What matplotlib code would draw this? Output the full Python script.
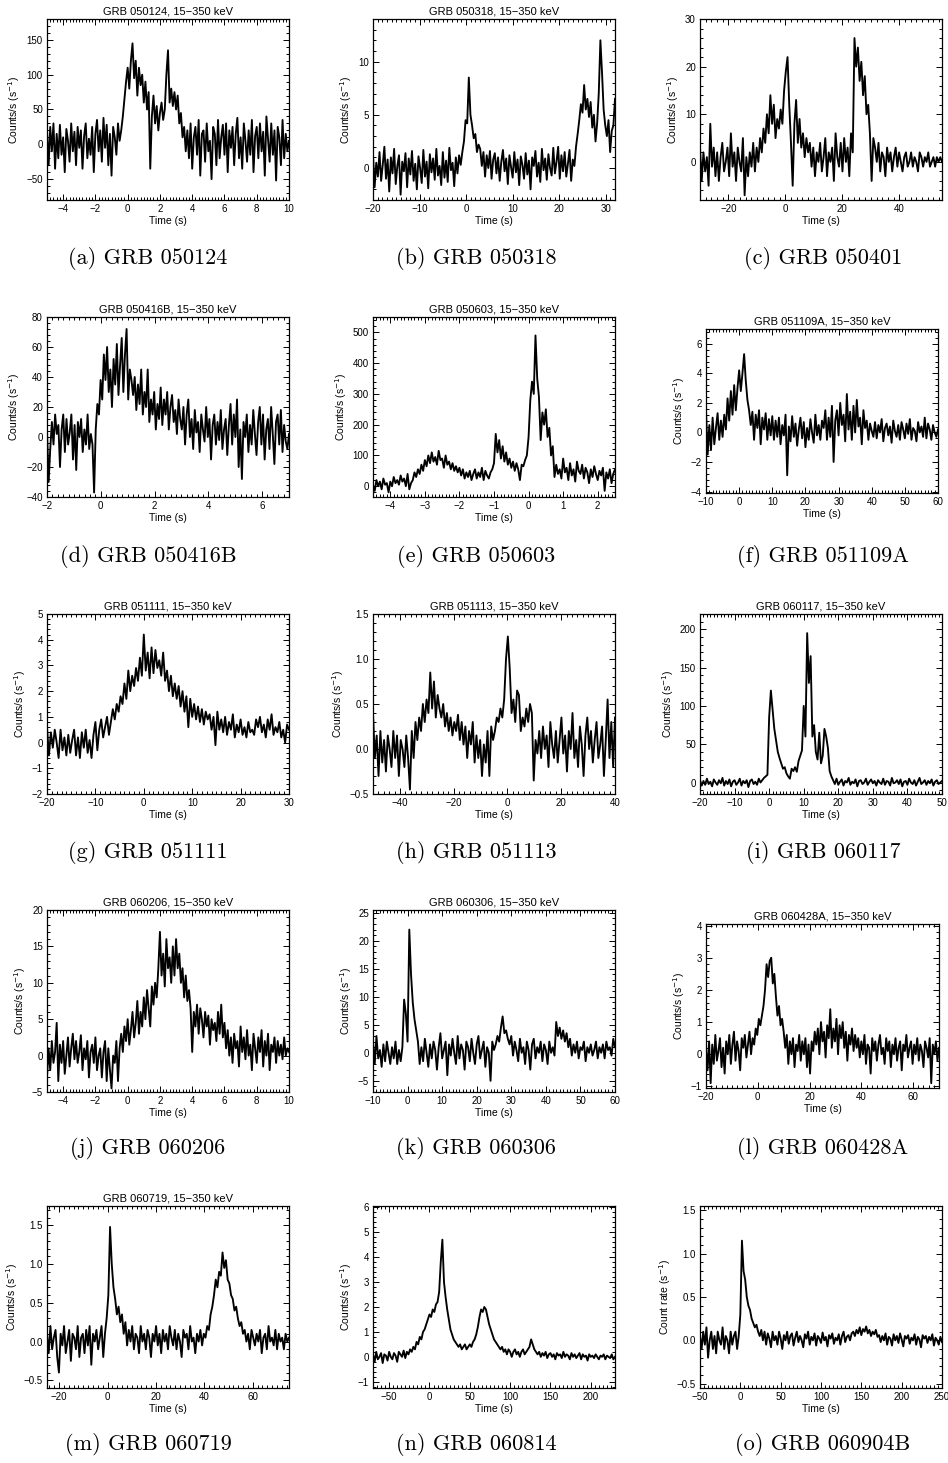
import numpy as np
import matplotlib
matplotlib.use("Agg")
import matplotlib.pyplot as plt
from matplotlib.ticker import AutoMinorLocator, MultipleLocator

# ---------------- data (counts per bin) ----------------
grb_050124 = [20, -30, 25, -10, 30, -35, 15, -20, 28, -15, 10, -40, 22, 5, -25, 30, -10, 18, -30, 25,
              -5, 20, -35, 12, 30, -20, 8, -15, 25, -40, 15, 35, -10, 20, -25, 38, -5, 28, -30, 15,
              -45, 25, 10, -15, 30, 5, 20,
              40, 65, 90, 110, 80, 120, 145,
              95, 120, 70, 110, 85, 100, 60, 90, 50, 75, -35,
              40, 70, 30, 55, 20, 45, 60, 35, 50,
              100, 135, 60, 80, 55, 75, 50, 70,
              30, 45, 10, 25, -10,
              20, -20, 30, -35, 10, 25, -15, 35, -45, 15, 20, -25, 30, -10, 5, -50, 25, 15, -30, 35,
              -20, 10, 28, -15, 30, -40, 20, -5, 25, -30, 15, 38, -20, 10, -35, 30, 5, -25, 20, -15,
              35, -40, 12, 25, -20, 30, -10, 18, -45, 40, 8, -25, 30, -15, 20, -52, 25, 10, -30, 35,
              -20, 15, -10, 5]
grb_050318 = [1.2, -1.8, 0.5, -0.8, 1.5, -1.2, 0.3, 2.0, -1.0, 0.8, -2.2, 1.0, -0.5, 1.8, -1.5, 0.2,
              1.2, -2.5, 0.6, -0.3, 1.4, -1.8, 0.9, -0.6, 1.6, -1.2, 0.4, -2.0, 1.1, 0.0, -1.4, 1.7,
              -0.8, 0.6, -1.9, 1.3, -0.4, 0.9, -1.1, 1.8, -0.7, 0.2, -1.6, 1.5, -0.9, 0.7, -1.3, 1.9,
              -0.2, 0.5, -1.7, 1.0, -0.5, 1.2, 0.3,
              1.5, 2.5, 4.5, 4.2, 8.5, 5.0, 4.0, 2.8, 3.2, 1.5, 2.2,
              1.8, 0.2, 1.5, -0.8, 1.2, 0.0, 1.6, -1.0, 0.8, 1.4, -0.5, 1.0, -1.2, 0.6, 1.7, -0.3,
              0.9, -1.5, 1.2, 0.1, -0.9, 1.5, -0.4, 0.8, -1.6, 1.1, 0.3, -1.0, 1.4, -0.6, 0.7, -2.0,
              1.0, 0.2, 1.6, -0.8, 0.5, -1.3, 1.8, -0.2, 0.9, -1.1, 1.3, 0.0, -0.7, 1.9, -0.5, 0.6,
              2.0, -1.0, 1.2, -0.3, 1.5, -0.8, 0.4, 1.7, -1.2, 0.8, 0.2,
              2.0, 3.2, 4.5, 6.0, 5.2, 7.8, 5.5, 6.5, 4.8, 6.2, 3.8, 5.0, 2.5, 4.2, 7.0, 12.0, 9.0,
              5.5, 4.0, 3.0, 4.5, 1.5, 3.5, 4.0, 6.5]
grb_050401 = [3, -4, 2, -2, 1, -5, 8, -1, 3, -3, 2, -4, 1, 4, -2, 0, 3, -3, 6, -1, 2, -4, 3, 0, -2,
              5, -7, 1, -3, 2, -1, 4, -2, 3, 0, 5,
              2, 7, 4, 10, 6, 14, 8, 12, 5, 9, 7, 11, 8,
              15, 19, 22, 12, 4,
              -5, 8, 13, 4, 9, 3, 6, 1, 5, 2,
              4, -1, 3, -3, 2, 0, 4, -2, 1, 5, -3, 2, 0, 3, -4, 6, 1, -1, 4, -2, 5, 0, 3, -3, 6, 2,
              26, 20, 24, 17, 21, 14, 18, 10, 12, 6, -4, 5,
              3, 0, 4, -2, 2, 1, -3, 3, 0, 2, -2, 1, 3, -1, 2, 0, -2, 1, 2, -1, 0, 2, -1, 1, 0, -2,
              2, 1, -1, 1, 0, 2, -1, 0, 1, -1, 1, 0, 1, 0]
grb_050416b = [5, -30, -8, 10, -5, 15, 2, 8, -20, 5, 15, -10, 12, -5, 3, 15, -15, 8, -22, 10, 0, 12,
               -10, 5, -5, 15, -8, 2, -5, -37,
               5, 22, 15, 38, 25,
               55, 38, 60, 30, 45, 20, 52, 35, 62, 28, 48, 66, 30, 55, 72, 25, 45, 38,
               28, 40, 18, 35, 22, 45, 15, 30, 20,
               45, 10, 25, 15, 30, 5, 22, 12, 33, 8, 25, 15, 30, 5, 20, 28, 10, 18, 2, 25, 12,
               5, 20, -5, 15, 25, 0, 12, -8, 18, 3, 10, -10, 15, 5, -3, 20, 0, 12, -15, 8, 15, -5,
               10, -2, 18, -8, 5, 12, -12, 8, 22, -5, 15, 0, 25, -20, 5, -28, 10, 0, 15, -10, 8, -5,
               18, 2, -12, 10, 20, -5, 15, -15, 5, 12, -8, 20, 2, -18, 10, 15, -5, 18, -10, 8, -3,
               -8, 2]
grb_050603 = [5, -15, 20, 0, 15, -10, 25, 5, 10, -20, 15, 0, 30, 10, 20, 5, 35, 15, 25, 0, 40, -10,
              10, 20, 45, 30,
              55, 40, 70, 50, 85, 65, 100, 75, 110, 80, 95, 70, 115, 85, 90, 60, 100, 70, 80, 55,
              75, 50, 65, 45, 60,
              35, 55, 25, 45, 30, 50, 20, 40, 55, 25, 45, 30, 60, 20, 50, 35, 25, 45, 55, 75,
              170, 110, 150, 90, 130, 80, 110, 70, 90, 60, 80, 50, 75, 55, 20, 70, 65, 85, 100,
              160, 280, 340, 300, 490, 350, 290, 150, 240, 200, 250,
              160, 190, 100, 130, 30,
              70, 40, 55, 25, 90, 45, 60, 20, 75, 35, 55, 15, 80, 50, 40, 70, 25, 60, 45, 10, 55,
              30, 65, 40, 20, 50, 35, 60, -15, 45, 25, 55, 10, 40, 55]
grb_051109a = [1.5, -1.5, 0.5, -1.2, 1.0, -0.8, 0.3, 1.3, -0.5, 0.8, -0.3,
               1.2, 0.2, 2.3, 0.8, 2.8, 1.2, 3.2, 1.5, 3.0,
               4.2, 2.8, 4.0, 5.3, 3.5, 2.2,
               1.5, 0.5, 1.4, -0.5, 1.2, 0.3, 1.5, -0.8, 1.0, 0.2, 1.3, -0.5, 0.9, -0.2, 1.1,
               -0.5, 0.8, -0.3, 1.0, -0.8, 0.5, -0.2, 1.2, -2.9, 0.4, -0.6, 1.1, -0.3, 0.6, -0.9,
               0.2, 1.0, -0.4, 0.7, -1.0, 0.3, -0.5, 0.9, 0.0, -0.7, 1.2, -0.2, 0.5, -0.5, 0.8,
               0.3, 1.5, -0.5, 1.0, -0.3, 1.8, -2.0, 0.8, 1.5, -0.2, 2.0, 0.5, 1.2, -0.6, 2.6, 0.2,
               1.4, -0.5, 1.8, 0.0, 2.2, 0.4, 1.0, -0.8, 1.5, 0.3,
               0.8, -0.5, 0.6, 0.1, -0.3, 0.7, -0.4, 0.5, 0.0, 0.9, -0.6, 0.3, 0.6, -0.2, 0.4, -0.7,
               0.8, 0.1, -0.3, 0.5, -0.5, 0.7, 0.2, -0.4, 0.6, -0.1, 0.9, -0.5, 0.3, 0.1, -0.6, 0.7,
               0.0, 0.4, -0.3, 1.0, -0.4, 0.6, 0.2, -0.5, 0.5, 0.0, -0.3, 0.2]
grb_051111 = [0.6, -0.5, 0.4, -0.2, 0.5, 0.0, -0.6, 0.5, -0.3, 0.2, -0.5, 0.3, -0.4, 0.1, 0.5, -0.5,
              0.2, -0.6, 0.4, -0.2, 0.5, -0.4, 0.1,
              -0.6, 0.3, 0.8, -0.3, 0.5, 0.9, 0.2, 0.6, 1.0, 0.3, 0.8, 1.3, 0.9, 1.5,
              1.2, 1.8, 1.5, 2.3, 1.7, 2.8, 2.0, 2.6, 2.2, 2.9, 2.4, 3.3, 2.6,
              4.2, 2.8, 3.5, 2.5, 3.7, 2.7, 3.6, 2.9, 3.2, 2.6, 3.5,
              2.4, 2.8, 2.0, 2.6, 1.8, 2.3, 1.7, 2.2, 1.4, 2.0, 1.2, 1.8, 0.6,
              1.7, 1.0, 1.5, 0.9, 1.4, 0.8, 1.3, 0.7, 1.2, 0.9, 1.1, 0.5, 1.0, -0.1, 1.2,
              0.5, 0.9, 0.4, 1.0, 0.3, 0.8, 0.5, 1.1, 0.2, 0.7, 0.4, 0.9, 0.3, 0.6, 0.2, 0.8, 0.4,
              0.5, 0.3, 0.9, 0.6, 1.0, 0.4, 0.7, 0.2, 0.9, 0.5, 1.1, 0.3, 0.6, 0.4, 0.8, 0.2, 0.5,
              0.0, 0.7, 0.5]
grb_051113 = [0.4, -0.1, 0.15, -0.3, 0.2, -0.15, 0.1, -0.25, 0.15, 0.0, -0.2, 0.2, -0.1, 0.15, -0.3,
              0.1, 0.0, -0.2, 0.15, -0.1, -0.45,
              0.2, -0.1, 0.3, 0.1, 0.35, 0.2, 0.5, 0.3,
              0.55, 0.4, 0.85, 0.45, 0.75, 0.35, 0.6, 0.45,
              0.35, 0.5, 0.25, 0.4, 0.2, 0.35, 0.15, 0.3, 0.2, 0.38,
              0.1, 0.3, 0.05, 0.25, -0.1, 0.2, 0.05, 0.3, -0.15, 0.15,
              -0.1, 0.1, -0.3, 0.05, -0.15, 0.2, -0.3, 0.25, 0.1, 0.2, 0.35,
              0.3, 0.45, 0.35, 0.55, 1.0,
              1.25, 0.9, 0.4, 0.55, 0.3, 0.65, 0.6,
              0.2, 0.35, 0.25, 0.45, 0.3, 0.5, 0.4,
              -0.35, 0.1, -0.05, 0.2, -0.1, 0.25, 0.0, 0.15, -0.2, 0.3, 0.05, -0.1, 0.2, -0.15,
              0.1, 0.35, -0.05, 0.15, -0.25, 0.2, 0.0, 0.4, -0.1, 0.1, -0.2, 0.25, 0.05, -0.3,
              0.15, 0.35, 0.0, 0.2, -0.15, 0.1, 0.3, -0.1, 0.05, 0.25, -0.3, 0.1, 0.55, -0.1, 0.3,
              -0.2, 0.35]
grb_060117 = [3, -4, 2, -3, 5, -2, 1, -5, 4, 0, -3, 3, -1, 6, -4, 2, -2, 4, -5, 1, 3, -3, 0, 5, -4,
              2, -1, 3, -6, 2, 4, -2, 1, -3, 5, 0, 3, 6, 8,
              10, 85, 120, 95, 70, 55, 40, 32,
              25, 18, 20, 12, 8, 5, 18, 15, 20, 14, 28, 35, 42,
              100, 60, 195, 130, 165, 60, 75, 40, 30, 65, 25, 35, 70, 60, 45, 15, 8,
              3, -2, 5, -3, 1, 4, -4, 2, 0, 6, -3, 1, -1, 4, -5, 2, 3, -2, 0, 5, -3, 1, 4, -1, 2,
              -4, 3, 0, -2, 5, -3, 2, 1, -4, 6, -1, 0, 3, -2, 4, -5, 1, 2, -3, 5, 0, -2, 3, -4, 1,
              6, -2, 0, 3, -3, 2, -1, 4, -4, 1, 3, -2, 0, 2]
grb_060206 = [-3, 1, -2, 2, -1, 0.5, 4.5, -3.5, 1.5, -1, 2, -2.5, 0, 2.5, -1.5, 1, 3, -0.5, 2, -1,
              0.5, 2.8, -2, 1, -0.5, 2, -3, 0.5, 1.5, -1, 2.5, -2, 0, 1, -3, 0.5, 2, -3.5, 1, -2,
              -4.5, 0, -1, 2, -3.5, 1, 3, 0.5, 4, 2, 5, 1.5, 3.5, 6, 2.5, 4.5, 7.5, 3, 6, 4,
              8, 5, 9, 6.5, 4, 9.5, 7, 10, 8, 12,
              17, 11, 14, 9.5, 16, 12, 13.5, 10, 15, 11, 16, 12, 14,
              10, 12, 8, 11, 7.5, 9, 6.5,
              0.5, 6, 4, 7, 3, 6.5, 5, 2.5, 6, 4, 5.5, 1.5, 5, 3.5, 4.5, 2, 6, 3, 7, 2.5,
              4.5, 1, 3.5, 0, 2.5, -1, 3, 1, 2, -1.5, 4, 0.5, 2.5, -0.5, 3.5, 0, 1.5, -2, 3, 1,
              -1, 2.5, 0.5, 3.5, -1.5, 2, 0, 3, -2, 1.5, 0.5, 2.5, -1, 2, 0, 1.5, -0.5, 2.5, 0, 1,
              0.5]
grb_060306 = [2, -2, 3, -1, 0.5, -2.5, 1.5, -1.5, 2, 0, -2, 1, -1, 2, -2, 0.5, -1.5, 1,
              9.5, 7, 2, 22, 14, 9, 6, 4,
              2, -2, 1, -1.5, 2.5, 0, -2.5, 1.5, -1, 2, 0.5, -3, 1, 3.5, -1, 0.5, 2, -4, 1.5, -0.5,
              2.5, 0, -2, 3, -1, 1.5, 0.5, -3, 2, 1, -1.5, 2.5, 0, -2, 1.5, 3, -1, 0.5, 2, -2.5, 1,
              0, -5, 2, 0.5, 1.5,
              3, 2, 4.5, 6.5, 3.5, 4, 2.5,
              1.5, 3, -0.5, 2, 0.5, -1.5, 2.5, 0, 1, -2, 2, 0.5, -3, 1.5, 2.5, -1, 1, 0, 2, -1.5,
              1.5, 0.5, -2, 2, 0, 1, -0.5,
              5.5, 3, 4.5, 2.5, 4, 2, 3.5,
              1, 2.5, -0.5, 1.5, 0, 2, -1, 1, 0.5, 2, -1.5, 1, 0, 1.5, -0.5, 0.5, 2, -1, 1, 0, 1.5,
              -1, 2, 0.5, 1, -0.5, 2.5, 1]
grb_060428a = [0.2, -0.5, 0.4, -0.9, 0.3, -0.3, 0.6, -0.2, 0.1, 0.5, -0.4, 0.2, -0.6, 0.4, 0.0, 0.6,
               -0.3, 0.3, 0.7, -0.2, 0.4, 0.1, -0.5, 0.5, 0.2, 0.6, -0.1, 0.3, 0.7, 0.0, 0.5, 0.3,
               0.8,
               0.6, 1.1, 0.9, 1.2, 1.5,
               2.0, 2.8, 2.4, 2.9, 3.0, 2.2, 2.5,
               1.8, 1.2, 1.5, 0.9, 1.1, 0.7,
               0.2, 0.6, -0.3, 0.4, 0.0, 0.5, -0.4, 0.3, 0.1, 0.6, -0.2, 0.4, 0.0, 0.5, -0.4, 0.3,
               -0.6, 0.4, 0.1, 0.7,
               0.3, 0.8, 0.0, 1.0, 0.4, 0.7, -0.1, 0.9, 0.5, 1.4, 0.2, 0.8, 0.4, 1.1, 0.0, 0.9, 0.5,
               1.0, 0.2, 0.7, -0.2, 0.6, 0.3, 0.8, 0.1, 0.6, 0.2,
               0.5, -0.1, 0.4, 0.0, 0.6, -0.3, 0.3, 0.2, -0.6, 0.5, 0.1, 0.4, -0.2, 0.3, 0.6, 0.0,
               0.2, -0.3, 0.5, 0.1, 0.4, -0.4, 0.3, 0.0, 0.5, -0.2, 0.2, 0.4, -0.5, 0.3, 0.1, 0.6,
               -0.1, 0.2, 0.4, -0.3, 0.3, 0.0, 0.5, -0.2, 0.3, 0.1, -0.4, 0.4, 0.2, -0.1, 0.5, -0.9,
               0.3, 0.0, 0.4, -0.2, 0.2]
grb_060719 = [0.1, -0.15, 0.2, -0.1, 0.05, 0.15, -0.2, -0.4, 0.1, -0.05, 0.2, -0.15, 0.0, 0.15, -0.25,
              0.1, 0.05, -0.1, 0.2, -0.2, 0.05, 0.1, -0.15, 0.15, -0.05, 0.2, -0.3, 0.1, 0.0, 0.15,
              -0.1, 0.05, 0.2, -0.2, 0.1, 0.3,
              0.6, 1.48, 1.0, 0.7, 0.55, 0.35, 0.45, 0.25, 0.35,
              0.1, 0.25, -0.05, 0.15, 0.0, 0.2, -0.1, 0.1, 0.05, -0.15, 0.2, 0.0, 0.1, -0.1, 0.15,
              0.05, -0.2, 0.1, 0.0, 0.2, -0.05, 0.1, -0.15, 0.15, 0.0, 0.1, -0.1, 0.2, 0.05, -0.05,
              0.15, -0.1, 0.1, 0.0, -0.2, 0.15, 0.05, 0.1, -0.1, 0.2, 0.0, 0.05, -0.15, 0.1, 0.0,
              0.15, -0.05, 0.1,
              0.05, 0.2, 0.15, 0.35, 0.45,
              0.6, 0.8, 0.7, 0.9, 0.85, 1.15, 0.95, 1.05, 0.8, 0.75, 0.6, 0.55, 0.4, 0.45,
              0.3, 0.2, 0.25, 0.1, 0.15, 0.0, 0.1, -0.1, 0.15, 0.05, -0.05, 0.1, 0.0, 0.15, -0.15,
              0.05, 0.1, -0.1, 0.2, 0.0, 0.05, -0.05, 0.15, -0.1, 0.1, 0.0, 0.05, -0.1, 0.1, 0.0,
              0.05]
grb_060814 = [0.1, -0.2, 0.2, -0.1, 0.0, 0.15, -0.25, 0.1, 0.05, -0.15, 0.2, 0.0, -0.1, 0.15, 0.05,
              -0.2, 0.2, 0.1, 0.0, 0.25, -0.05, 0.2, 0.1, 0.3, 0.2,
              0.4, 0.3, 0.6, 0.5, 0.8, 0.7, 1.0, 1.1, 1.3, 1.5,
              1.7, 1.6, 1.9, 1.8, 2.1, 2.2,
              2.6, 3.8, 4.7, 3.0,
              2.4, 1.9, 1.5, 1.1, 0.9, 0.7,
              0.6, 0.5, 0.4, 0.5, 0.3, 0.4, 0.5, 0.3, 0.4, 0.5, 0.4, 0.6, 0.7,
              0.9, 1.2, 1.6, 1.9, 1.8, 2.0, 1.9, 1.6,
              1.3, 1.1, 0.9, 0.7, 0.6, 0.5, 0.4,
              0.3, 0.4, 0.2, 0.3, 0.1, 0.3, 0.2, 0.0, 0.2, 0.3, 0.1, 0.2, 0.0, 0.2, 0.3, 0.1, 0.2,
              0.3, 0.4,
              0.7, 0.5, 0.3, 0.2,
              0.1, 0.2, 0.0, 0.15, 0.05, 0.2, -0.05, 0.1, 0.15, 0.0, 0.1, -0.1, 0.15, 0.05, 0.1,
              -0.05, 0.2, 0.0, 0.1, 0.05, -0.1, 0.15, 0.0, 0.1, -0.05, 0.05, 0.15, -0.1, 0.1, 0.0,
              0.05, -0.15, 0.1, 0.0, 0.05, -0.05, 0.1, 0.0, -0.1, 0.05, 0.0, 0.1, -0.1, 0.05, 0.0,
              -0.05, 0.1, -0.1, 0.0]
grb_060904b = [0.05, -0.1, 0.1, -0.05, 0.15, -0.2, 0.0, 0.1, -0.1, 0.05, -0.15, 0.1, 0.0, -0.05,
               0.15, -0.1, 0.05, 0.0, -0.15, 0.1, -0.05, 0.05, 0.1, -0.1, 0.05,
               0.3, 1.15, 0.8, 0.7, 0.5, 0.4, 0.35, 0.25, 0.2, 0.15, 0.18,
               0.1, 0.05, 0.12, 0.0, 0.1, -0.05, 0.08, 0.02, -0.08, 0.1, 0.0, 0.05, -0.05, 0.1,
               0.02, -0.1, 0.06, 0.0, 0.1, -0.04, 0.05, 0.08, -0.06, 0.03, 0.1, -0.02, 0.05, 0.0,
               -0.08, 0.07, 0.02, 0.1, -0.05, 0.04, 0.0, 0.08, -0.06, 0.05, 0.02, -0.03, 0.09, 0.0,
               0.04, -0.07, 0.06, 0.02, 0.08, -0.04, 0.03, 0.0, 0.07, -0.05, 0.05, 0.1, -0.02, 0.04,
               0.06, 0.0, 0.08,
               0.1, 0.05, 0.12, 0.08, 0.15, 0.06, 0.13, 0.1, 0.16, 0.08, 0.12, 0.05, 0.1, 0.07,
               0.12, 0.04,
               0.06, -0.02, 0.05, 0.0, 0.08, -0.05, 0.04, 0.02, -0.06, 0.07, 0.0, 0.05, -0.03,
               0.08, 0.01, -0.07, 0.05, 0.02, 0.06, -0.04, 0.03, 0.0, 0.07, -0.05, 0.04, 0.01,
               -0.08, 0.06, 0.02, 0.05, -0.03, 0.04, 0.0, 0.07, -0.06, 0.03, 0.0, -0.05, 0.04, -0.02]

# first / last bin time (s) of each light curve
time_ranges = [(-5, 10), (-20, 32), (-30, 55), (-2, 7), (-4.5, 2.5), (-10, 60),
               (-20, 30), (-50, 40), (-20, 50), (-5, 10), (-10, 60), (-20, 70),
               (-25, 75), (-70, 230), (-50, 250)]
curves = [grb_050124, grb_050318, grb_050401, grb_050416b, grb_050603, grb_051109a,
          grb_051111, grb_051113, grb_060117, grb_060206, grb_060306, grb_060428a,
          grb_060719, grb_060814, grb_060904b]
names = ["GRB 050124", "GRB 050318", "GRB 050401", "GRB 050416B", "GRB 050603", "GRB 051109A",
         "GRB 051111", "GRB 051113", "GRB 060117", "GRB 060206", "GRB 060306", "GRB 060428A",
         "GRB 060719", "GRB 060814", "GRB 060904B"]
letters = list("abcdefghijklmno")
has_title = [True, True, False, True, True, True, True, True, True, True, True, True,
             True, False, False]
ylabels = ["Counts/s (s$^{-1}$)"] * 14 + ["Count rate (s$^{-1}$)"]

# axis settings
xlims = [(-5, 10), (-20, 32), (-30, 55), (-2, 7), (-4.5, 2.5), (-10, 60),
         (-20, 30), (-50, 40), (-20, 50), (-5, 10), (-10, 60), (-20, 70),
         (-25, 75), (-70, 230), (-50, 250)]
xsteps = [2, 10, 20, 2, 1, 10, 10, 20, 10, 2, 10, 20, 20, 50, 50]
ylims = [(-80, 180), (-3, 14), (-8, 30), (-40, 80), (-35, 550), (-4.1, 7),
         (-2, 5), (-0.5, 1.5), (-15, 220), (-5, 20), (-7, 25.5), (-1.05, 4.05),
         (-0.6, 1.75), (-1.25, 6.05), (-0.55, 1.55)]
ysteps = [50, 5, 10, 20, 100, 2, 1, 0.5, 50, 5, 5, 1, 0.5, 1, 0.5]

# ---------------- layout (pixels of a 948 x 1463 canvas) ----------------
W, H = 948, 1463
col_left = [47, 373, 700]
row_top = [19, 317, 614, 910, 1206]
row_bot = [200, 497, 794, 1092, 1388]
cap_y = [258, 556, 852, 1149, 1445]
cap_x = [148, 476, 823]
special = {5: (706, 938, 329, 493), 11: (706, 939, 924, 1088)}

fig = plt.figure(figsize=(W / 100, H / 100), dpi=100)
fig.patch.set_facecolor("white")
sans = "Liberation Sans"

for i in range(15):
    r, c = divmod(i, 3)
    if i in special:
        l, rt, tp, bt = special[i]
    else:
        l, rt, tp, bt = col_left[c], col_left[c] + 242, row_top[r], row_bot[r]
    ax = fig.add_axes([l / W, 1 - bt / H, (rt - l) / W, (bt - tp) / H])
    vals = np.asarray(curves[i], dtype=float)
    t = np.linspace(time_ranges[i][0], time_ranges[i][1], len(vals))
    ax.plot(t, vals, color="black", lw=1.35)
    ax.set_xlim(*xlims[i])
    ax.set_ylim(*ylims[i])
    ax.xaxis.set_major_locator(MultipleLocator(xsteps[i]))
    ax.yaxis.set_major_locator(MultipleLocator(ysteps[i]))
    ax.xaxis.set_minor_locator(AutoMinorLocator(10))
    ax.yaxis.set_minor_locator(AutoMinorLocator(5))
    ax.tick_params(which="both", direction="in", top=True, right=True, width=0.7,
                   labelsize=7, pad=3)
    ax.tick_params(which="major", length=4)
    ax.tick_params(which="minor", length=2)
    for lab in ax.get_xticklabels() + ax.get_yticklabels():
        lab.set_fontfamily(sans)
    for sp in ax.spines.values():
        sp.set_linewidth(0.9)
    ax.set_xlabel("Time (s)", fontsize=7.5, family=sans, labelpad=1)
    ax.set_ylabel(ylabels[i], fontsize=7.5, family=sans, labelpad=3)
    if has_title[i]:
        ax.set_title(names[i] + ", 15\u2212350 keV", fontsize=8, family=sans, pad=3)
    fig.text(cap_x[c] / W, 1 - cap_y[r] / H, "(%s) %s" % (letters[i], names[i]),
             family="cmr10", fontsize=16, ha="center", va="center")

fig.savefig("out.png", dpi=100, facecolor="white")
